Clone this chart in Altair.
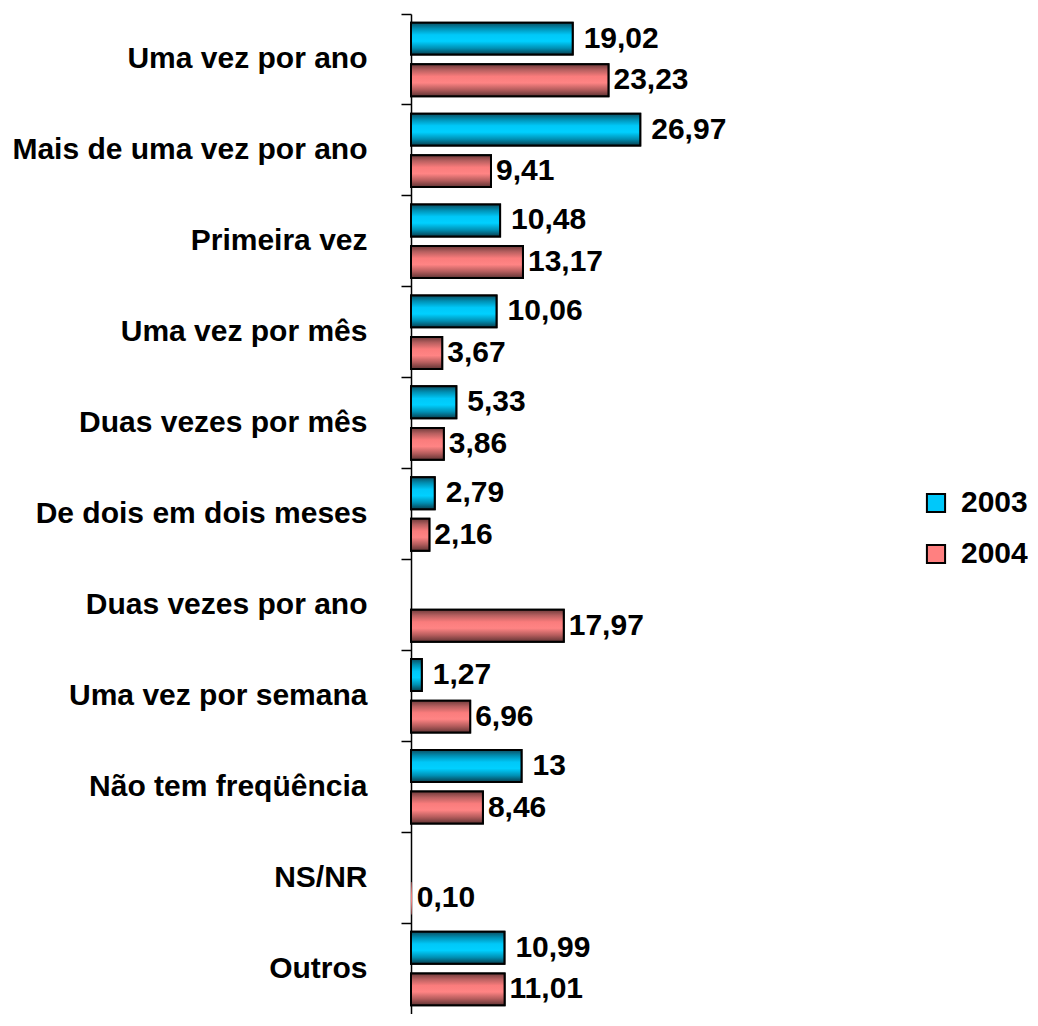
import altair as alt
import pandas as pd

categories = [
    "Uma vez por ano",
    "Mais de uma vez por ano",
    "Primeira vez",
    "Uma vez por mês",
    "Duas vezes por mês",
    "De dois em dois meses",
    "Duas vezes por ano",
    "Uma vez por semana",
    "Não tem freqüência",
    "NS/NR",
    "Outros",
]
values_2003 = [19.02, 26.97, 10.48, 10.06, 5.33, 2.79, None, 1.27, 13, None, 10.99]
values_2004 = [23.23, 9.41, 13.17, 3.67, 3.86, 2.16, 17.97, 6.96, 8.46, 0.10, 11.01]
years = ["2003", "2004"]


def fmt(v):
    if float(v).is_integer():
        return str(int(v))
    return f"{v:.2f}".replace(".", ",")


rows = []
for cat, a, b in zip(categories, values_2003, values_2004):
    for yr, v in (("2003", a), ("2004", b)):
        if v is not None:
            rows.append({"cat": cat, "year": yr, "v": v, "label": fmt(v)})
df = pd.DataFrame(rows)

FONT = "Liberation Sans"

y_enc = alt.Y(
    "cat:N",
    sort=categories,
    scale=alt.Scale(domain=categories, paddingInner=0, paddingOuter=0),
    axis=alt.Axis(
        title=None,
        bandPosition=0,
        labelFont=FONT,
        labelFontSize=30,
        labelFontWeight="bold",
        labelColor="black",
        labelPadding=34,
        labelLimit=500,
        tickSize=10,
        tickColor="black",
        tickWidth=1.5,
        domainColor="black",
        domainWidth=1.5,
        grid=False,
    ),
)
yoff_enc = alt.YOffset(
    "year:N",
    scale=alt.Scale(domain=years, paddingInner=0.233, paddingOuter=0.21),
)
x_enc = alt.X(
    "v:Q",
    scale=alt.Scale(domain=[0, 30], nice=False),
    axis=None,
)
stroke_w = alt.condition(alt.datum.v < 0.5, alt.value(0), alt.value(2))

base = alt.Chart(df)

solid = base.mark_bar(stroke="black").encode(
    x=x_enc,
    y=y_enc,
    yOffset=yoff_enc,
    strokeWidth=stroke_w,
    color=alt.Color(
        "year:N",
        scale=alt.Scale(domain=years, range=["#00c8fa", "#ff8080"]),
        legend=alt.Legend(
            title=None,
            orient="none",
            legendX=510,
            legendY=474,
            padding=0,
            symbolType="square",
            symbolSize=330,
            symbolStrokeColor="black",
            symbolStrokeWidth=2,
            labelFont=FONT,
            labelFontSize=30,
            labelFontWeight="bold",
            labelColor="black",
            labelOffset=10,
            rowPadding=21,
        ),
    ),
)

grad_2003 = alt.Gradient(
    gradient="linear",
    x1=0, y1=0, x2=0, y2=1,
    stops=[
        alt.GradientStop(color="#0b4f63", offset=0),
        alt.GradientStop(color="#0090b4", offset=0.18),
        alt.GradientStop(color="#00c8f8", offset=0.38),
        alt.GradientStop(color="#00d0ff", offset=0.58),
        alt.GradientStop(color="#0090b4", offset=0.8),
        alt.GradientStop(color="#083f4f", offset=1),
    ],
)
grad_2004 = alt.Gradient(
    gradient="linear",
    x1=0, y1=0, x2=0, y2=1,
    stops=[
        alt.GradientStop(color="#6e3a3a", offset=0),
        alt.GradientStop(color="#b86060", offset=0.18),
        alt.GradientStop(color="#fa7c7c", offset=0.38),
        alt.GradientStop(color="#ff8484", offset=0.58),
        alt.GradientStop(color="#b45c5c", offset=0.8),
        alt.GradientStop(color="#603434", offset=1),
    ],
)

over_2003 = base.transform_filter(alt.datum.year == "2003").mark_bar(
    fill=grad_2003, stroke="black"
).encode(x=x_enc, y=y_enc, yOffset=yoff_enc, strokeWidth=stroke_w)

over_2004 = base.transform_filter(alt.datum.year == "2004").mark_bar(
    fill=grad_2004, stroke="black"
).encode(x=x_enc, y=y_enc, yOffset=yoff_enc, strokeWidth=stroke_w)

txt_2003 = base.transform_filter(alt.datum.year == "2003").mark_text(
    align="left", baseline="middle", dx=11, font=FONT, fontSize=30,
    fontWeight="bold", color="black",
).encode(x=x_enc, y=y_enc, yOffset=yoff_enc, text="label:N")

txt_2004 = base.transform_filter(alt.datum.year == "2004").mark_text(
    align="left", baseline="middle", dx=5, font=FONT, fontSize=30,
    fontWeight="bold", color="black",
).encode(x=x_enc, y=y_enc, yOffset=yoff_enc, text="label:N")

chart = (
    alt.layer(solid, over_2003, over_2004, txt_2003, txt_2004)
    .properties(
        width=255,
        height=1000,
        background="white",
        padding={"top": 5, "bottom": 0, "left": 3, "right": 0},
    )
    .configure_view(stroke="transparent", strokeWidth=0)
)

chart.save("out.html", embed_options={"renderer": "svg", "actions": False})
